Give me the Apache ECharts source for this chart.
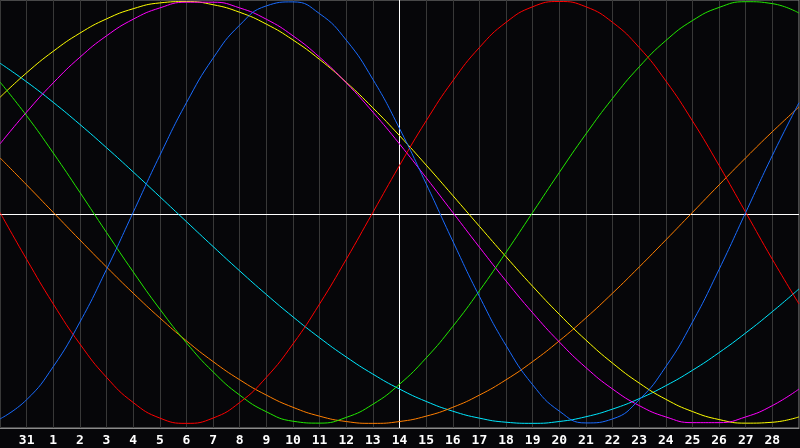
<!DOCTYPE html>
<html>
<head>
<meta charset="utf-8">
<script src="https://cdn.jsdelivr.net/npm/echarts@6/dist/echarts.min.js"></script>
<style>
html,body{margin:0;padding:0;background:#060609;}
#c{width:800px;height:448px;}
</style>
</head>
<body>
<div id="c"></div>
<script>
var days = ["30","31","1","2","3","4","5","6","7","8","9","10","11","12","13","14","15","16","17","18","19","20","21","22","23","24","25","26","27","28","1"];
var markDay = "14";

var blue23 = [-0.979,-0.888,-0.731,-0.520,-0.270,0,0.270,0.520,0.731,0.888,0.979,0.998,0.942,0.817,0.631,0.398,0.136,-0.136,-0.398,-0.631,-0.817,-0.942,-0.998,-0.979,-0.888,-0.731,-0.520,-0.270,0,0.270,0.520];
var red28 = [0,-0.2225,-0.4339,-0.6235,-0.7818,-0.9010,-0.9749,-1,-0.9749,-0.9010,-0.7818,-0.6235,-0.4339,-0.2225,0,0.2225,0.4339,0.6235,0.7818,0.9010,0.9749,1,0.9749,0.9010,0.7818,0.6235,0.4339,0.2225,0,-0.2225,-0.4339];
var green33 = [0.6182,0.4582,0.2817,0.0951,-0.0951,-0.2817,-0.4582,-0.6182,-0.7557,-0.8660,-0.9450,-0.9898,-0.9989,-0.9718,-0.9096,-0.8146,-0.6901,-0.5406,-0.3717,-0.1893,0,0.1893,0.3717,0.5406,0.6901,0.8146,0.9096,0.9718,0.9989,0.9898,0.9450];
var magenta38 = [0.3247,0.4759,0.6142,0.7357,0.8372,0.9158,0.9694,0.9966,0.9966,0.9694,0.9158,0.8372,0.7357,0.6142,0.4759,0.3247,0.1646,0,-0.1646,-0.3247,-0.4759,-0.6142,-0.7357,-0.8372,-0.9158,-0.9694,-0.9966,-0.9966,-0.9694,-0.9158,-0.8372];
var yellow43 = [0.5456,0.6619,0.7640,0.8499,0.9175,0.9656,0.9932,0.9996,0.9847,0.9488,0.8927,0.8176,0.7252,0.6170,0.4958,0.3640,0.2246,0.0802,-0.0657,-0.2103,-0.3504,-0.4830,-0.6053,-0.7146,-0.8090,-0.8860,-0.9440,-0.9820,-0.9990,-0.9948,-0.9693];
var orange48 = [0.2588,0.1305,0,-0.1305,-0.2588,-0.3827,-0.5,-0.6088,-0.7071,-0.7934,-0.8660,-0.9239,-0.9659,-0.9914,-1,-0.9914,-0.9659,-0.9239,-0.8660,-0.7934,-0.7071,-0.6088,-0.5,-0.3827,-0.2588,-0.1305,0,0.1305,0.2588,0.3827,0.5];
var cyan53 = [0.7075,0.6190,0.5218,0.4171,0.3067,0.1920,0.0746,-0.0438,-0.1617,-0.2773,-0.3890,-0.4951,-0.5944,-0.6853,-0.7665,-0.8372,-0.8960,-0.9423,-0.9753,-0.9946,-0.9999,-0.9912,-0.9686,-0.9323,-0.8830,-0.8214,-0.7484,-0.6645,-0.5714,-0.4703,-0.3626];

var seriesDefs = [
  {name:"cyan", data:cyan53, color:"#00e8ff"},
  {name:"orange", data:orange48, color:"#ff7f00"},
  {name:"yellow", data:yellow43, color:"#ffff00"},
  {name:"magenta", data:magenta38, color:"#ff00ff"},
  {name:"green", data:green33, color:"#22e800"},
  {name:"red", data:red28, color:"#ff0000"},
  {name:"blue", data:blue23, color:"#1a6cff"}
];

var chart = echarts.init(document.getElementById('c'));
var series = seriesDefs.map(function(s, k){
  var o = {
    name: s.name, type:'line', data: s.data, smooth: true, showSymbol:false, symbol:'none',
    lineStyle:{color:s.color, width:1}, itemStyle:{color:s.color}, z:3
  };
  if (k === 0) {
    o.markLine = {
      silent:true, symbol:['none','none'], label:{show:false}, z:2,
      lineStyle:{color:'#ffffff', width:1, type:'solid', opacity:1},
      emphasis:{disabled:true},
      data:[{xAxis: markDay}, {yAxis: -0.010}]
    };
  }
  return o;
});

chart.setOption({
  animation:false,
  backgroundColor:'#060609',
  grid:{left:0, right:1, top:0, bottom:20, show:true, borderColor:'#8a8a8a', borderWidth:1, backgroundColor:'#060609'},
  xAxis:{
    type:'category', data:days, boundaryGap:false,
    axisLine:{show:true, onZero:false, lineStyle:{color:'#8a8a8a', width:1}},
    axisTick:{show:false},
    axisLabel:{
      color:'#ffffff', fontFamily:'DejaVu Sans Mono', fontWeight:'bold', fontSize:13, margin:6,
      interval:function(i){ return i>0 && i<days.length-1; }
    },
    splitLine:{show:true, interval:0, lineStyle:{color:'#383838', width:1}}
  },
  yAxis:{
    type:'value', min:-1.022, max:1.007,
    axisLine:{show:false}, axisTick:{show:false}, axisLabel:{show:false}, splitLine:{show:false}
  },
  series:series
});
</script>
</body>
</html>
